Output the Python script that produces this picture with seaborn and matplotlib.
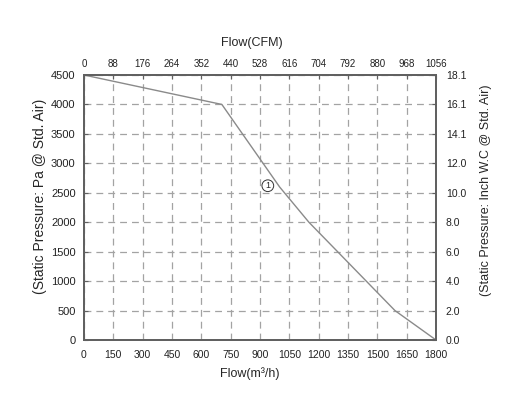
import pandas as pd
import seaborn as sb
import matplotlib.pyplot as plt

sb.set_style('white')
plt.rcParams['font.family'] = ['Liberation Sans', 'DejaVu Sans']

# curve (m3/h, Pa)
flow = [0, 705, 1000, 1150, 1590, 1800]
pressure = [4500, 4000, 2600, 2000, 500, 0]

flow_ticks = [0, 150, 300, 450, 600, 750, 900, 1050, 1200, 1350, 1500, 1650, 1800]
cfm_labels = ['0', '88', '176', '264', '352', '440', '528', '616', '704', '792', '880', '968', '1056']
pa_ticks = [0, 500, 1000, 1500, 2000, 2500, 3000, 3500, 4000, 4500]
inwc_labels = ['0.0', '2.0', '4.0', '6.0', '8.0', '10.0', '12.0', '14.1', '16.1', '18.1']

curve = pd.DataFrame({'flow': flow, 'pressure': pressure})

fig = plt.figure(figsize=(5.2, 3.96), dpi=100)
ax = fig.add_axes([0.1615, 0.1414, 0.677, 0.6692])

sb.lineplot(data=curve, x='flow', y='pressure', ax=ax, color='#8a8a8a', linewidth=1.0)

spine_col = '#606060'
ax.set_xlim(0, 1800)
ax.set_ylim(0, 4500)
ax.set_xticks(flow_ticks)
ax.set_yticks(pa_ticks)
ax.grid(True, color='#a3a3a3', linestyle=(0, (5.5, 4)), linewidth=0.9)
ax.tick_params(axis='y', labelsize=8, colors='#222222', length=3, direction='in',
               color=spine_col, pad=6)
ax.tick_params(axis='x', labelsize=7.5, colors='#222222', length=0, pad=7)
for s in ax.spines.values():
    s.set_color(spine_col)
    s.set_linewidth(1.1)
ax.set_xlabel('Flow(m³/h)', fontsize=9, va='center')
ax.xaxis.set_label_coords(0.47, -0.125)
ax.set_ylabel('(Static Pressure: Pa @ Std. Air)', fontsize=10, va='center')
ax.yaxis.set_label_coords(-0.125, 0.543)

ax_top = ax.twiny()
ax_top.set_xlim(0, 1800)
ax_top.set_xticks(flow_ticks)
ax_top.set_xticklabels(cfm_labels)
ax_top.tick_params(labelsize=7, length=3, direction='in', colors='#222222',
                   color=spine_col, pad=4)
ax_top.set_xlabel('Flow(CFM)', fontsize=9, va='center')
ax_top.xaxis.set_label_coords(0.477, 1.121)

ax_right = ax.twinx()
ax_right.set_ylim(0, 4500)
ax_right.set_yticks(pa_ticks)
ax_right.set_yticklabels(inwc_labels)
ax_right.tick_params(labelsize=7.5, length=3, direction='in', colors='#222222',
                     color=spine_col, pad=7)
ax_right.set_ylabel('(Static Pressure: Inch W.C @ Std. Air)', fontsize=9, va='center')
ax_right.yaxis.set_label_coords(1.142, 0.566)
for a in (ax_top, ax_right):
    for s in a.spines.values():
        s.set_color(spine_col)
        s.set_linewidth(1.1)

ax.text(940, 2620, '1', fontsize=6.5, ha='center', va='center',
        bbox=dict(boxstyle='circle,pad=0.15', fc='white', ec='#333333', lw=0.7))

plt.savefig('out.png', dpi=100)
